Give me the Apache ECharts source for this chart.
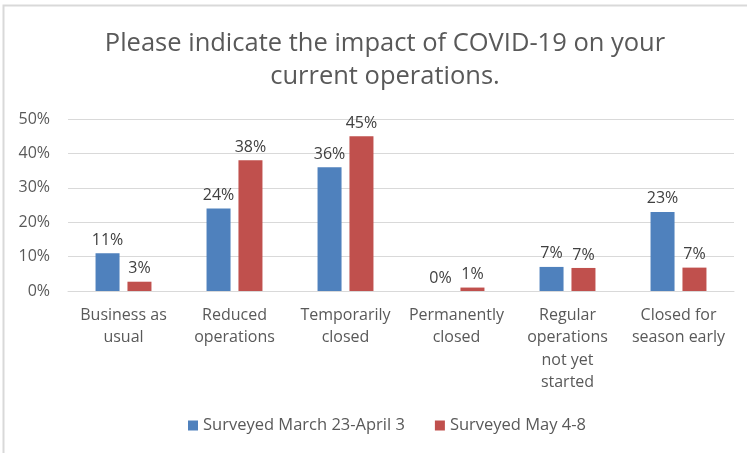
<!DOCTYPE html>
<html>
<head>
<meta charset="utf-8">
<script src="https://cdn.jsdelivr.net/npm/echarts@6/dist/echarts.min.js"></script>
<style>
  html, body { margin: 0; padding: 0; background: #fff; }
  #chart { width: 747px; height: 453px; }
</style>
</head>
<body>
<div id="chart"></div>
<script>
  // values
  const categories = [
    'Business as\nusual',
    'Reduced\noperations',
    'Temporarily\nclosed',
    'Permanently\nclosed',
    'Regular\noperations\nnot yet\nstarted',
    'Closed for\nseason early'
  ]
  const marchApril = [11, 24, 36, 0, 7, 23]
  const may = [2.7, 38, 45, 1, 6.7, 6.8]
  const seriesNames = ['Surveyed March 23-April 3', 'Surveyed May 4-8']

  const fontFamily = '"Open Sans", "Liberation Sans", sans-serif'
  const textColor = '#595959'

  const chart = echarts.init(document.getElementById('chart'))

  const barLabel = {
    show: true,
    position: 'top',
    distance: 5,
    color: '#404040',
    fontSize: 16,
    fontFamily: fontFamily,
    formatter: (p) => Math.round(p.value) + '%'
  }

  const option = {
    animation: false,
    backgroundColor: '#fff',
    title: {
      text: 'Please indicate the impact of COVID-19 on your\ncurrent operations.',
      left: 380,
      top: 22,
      textAlign: 'center',
      textStyle: {
        color: textColor,
        fontSize: 25.5,
        fontWeight: 'normal',
        fontFamily: fontFamily,
        lineHeight: 33,
        align: 'center'
      }
    },
    legend: {
      data: seriesNames,
      bottom: 14,
      left: 183,
      icon: 'rect',
      itemWidth: 10,
      itemHeight: 10,
      itemGap: 30,
      itemStyle: { borderWidth: 0 },
      textStyle: {
        color: textColor,
        fontSize: 16.5,
        fontFamily: fontFamily
      }
    },
    grid: {
      top: 119,
      bottom: 162,
      left: 68,
      right: 13
    },
    xAxis: {
      type: 'category',
      data: categories,
      axisLine: { show: true, lineStyle: { color: '#d9d9d9', width: 1 } },
      axisTick: { show: false },
      axisLabel: {
        interval: 0,
        margin: 13,
        color: textColor,
        fontSize: 16,
        fontFamily: fontFamily,
        lineHeight: 22.5
      }
    },
    yAxis: {
      type: 'value',
      min: 0,
      max: 50,
      interval: 10,
      axisLine: { show: false },
      axisTick: { show: false },
      axisLabel: {
        formatter: '{value}%',
        color: textColor,
        fontSize: 16,
        fontFamily: fontFamily,
        margin: 18
      },
      splitLine: { lineStyle: { color: '#d9d9d9', width: 1 } }
    },
    series: [
      {
        name: seriesNames[0],
        type: 'bar',
        data: marchApril,
        barWidth: 24,
        barGap: '33%',
        itemStyle: { color: '#4F81BD' },
        label: barLabel
      },
      {
        name: seriesNames[1],
        type: 'bar',
        data: may,
        barWidth: 24,
        barGap: '33%',
        itemStyle: { color: '#C0504D' },
        label: barLabel
      }
    ],
    graphic: [
      {
        type: 'rect',
        silent: true,
        shape: { x: 3.5, y: 5.5, width: 760, height: 470 },
        style: { fill: 'none', stroke: '#d9d9d9', lineWidth: 2 }
      }
    ]
  }

  chart.setOption(option)
</script>
</body>
</html>
